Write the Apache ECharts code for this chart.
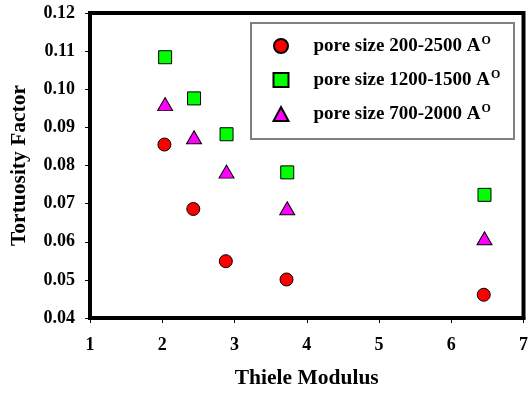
<!DOCTYPE html>
<html>
<head>
<meta charset="utf-8">
<script src="https://cdn.jsdelivr.net/npm/echarts@6/dist/echarts.min.js"></script>
<style>html,body{margin:0;padding:0;background:#fff;}#c{width:531px;height:394px;}</style>
</head>
<body>
<div id="c"></div>
<script>
var seriesNames = ['pore size 200-2500 A', 'pore size 1200-1500 A', 'pore size 700-2000 A'];
var supText = 'O';
var xTicks = [1, 2, 3, 4, 5, 6, 7];
var yTicks = [0.04, 0.05, 0.06, 0.07, 0.08, 0.09, 0.10, 0.11, 0.12];
var xTitle = 'Thiele Modulus';
var yTitle = 'Tortuosity Factor';
var pore200_2500 = [[2.03, 0.0855], [2.43, 0.0686], [2.88, 0.0549], [3.72, 0.0501], [6.45, 0.0461]];
var pore1200_1500 = [[2.04, 0.1084], [2.44, 0.0976], [2.89, 0.0882], [3.73, 0.0782], [6.46, 0.0723]];
var pore700_2000 = [[2.04, 0.0961], [2.44, 0.0874], [2.89, 0.0784], [3.73, 0.0688], [6.46, 0.0609]];

var FONT = '"Liberation Serif", "Times New Roman", serif';
var chart = echarts.init(document.getElementById('c'), null, {renderer: 'canvas'});
function sc(name, data, symbol, size, color) {
  return {
    name: name, type: 'scatter', data: data, symbol: symbol, symbolSize: size,
    itemStyle: {color: color, borderColor: '#000', borderWidth: 1, opacity: 1},
    emphasis: {disabled: true}, z: 5
  };
}
chart.setOption({
  animation: false,
  backgroundColor: '#fff',
  grid: {left: 89, top: 13, right: 4, bottom: 76, show: true, borderColor: '#000', borderWidth: 4, backgroundColor: 'transparent'},
  xAxis: {
    type: 'value', min: xTicks[0], max: xTicks[xTicks.length - 1], interval: 1,
    name: xTitle, nameLocation: 'middle', nameGap: 49,
    nameTextStyle: {fontFamily: FONT, fontWeight: 'bold', fontSize: 21.5, color: '#000'},
    axisLine: {show: true, onZero: false, lineStyle: {color: '#000', width: 4}},
    axisTick: {show: true, inside: false, length: 5, lineStyle: {color: '#000', width: 1}},
    axisLabel: {fontFamily: FONT, fontWeight: 'bold', fontSize: 18, color: '#000', margin: 18},
    splitLine: {show: false}
  },
  yAxis: {
    type: 'value', min: yTicks[0], max: yTicks[yTicks.length - 1], interval: 0.01,
    name: yTitle, nameLocation: 'middle', nameGap: 60,
    nameTextStyle: {fontFamily: FONT, fontWeight: 'bold', fontSize: 21.5, color: '#000'},
    axisLine: {show: true, onZero: false, lineStyle: {color: '#000', width: 4}},
    axisTick: {show: true, inside: false, length: 5, lineStyle: {color: '#000', width: 1}},
    axisLabel: {fontFamily: FONT, fontWeight: 'bold', fontSize: 18, color: '#000', margin: 15,
      formatter: function (v) { return v.toFixed(2); }},
    splitLine: {show: false}
  },
  legend: {
    show: true, orient: 'vertical', left: 272.5, top: 35, padding: 0, itemGap: 12,
    itemWidth: 15, itemHeight: 14,
    data: seriesNames,
    formatter: function (n) { return '{a|' + n + '}{s|' + supText + '}'; },
    textStyle: {
      fontFamily: FONT, fontWeight: 'bold', fontSize: 19, color: '#000', padding: [0, 0, 0, 20],
      rich: {
        a: {fontFamily: FONT, fontWeight: 'bold', fontSize: 19, color: '#000', lineHeight: 20},
        s: {fontFamily: FONT, fontWeight: 'bold', fontSize: 12, color: '#000', padding: [0, 0, 10, 1], lineHeight: 20}
      }
    }
  },
  graphic: [{
    type: 'rect', left: 250, top: 22, shape: {width: 263, height: 116},
    style: {fill: 'transparent', stroke: '#808080', lineWidth: 2}, z: 1
  }],
  series: [
    sc(seriesNames[0], pore200_2500, 'circle', 13, '#ff0000'),
    sc(seriesNames[1], pore1200_1500, 'rect', 13, '#00ff00'),
    sc(seriesNames[2], pore700_2000, 'triangle', [15, 13], '#ff00ff')
  ]
});
</script>
</body>
</html>
